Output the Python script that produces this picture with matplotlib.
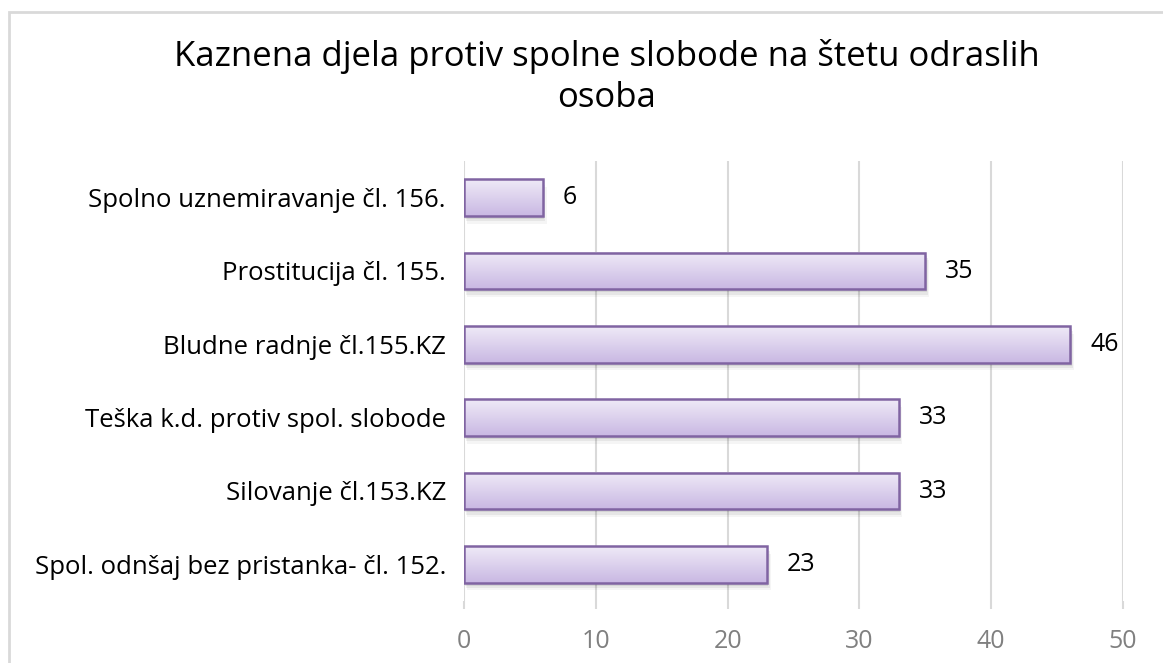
import numpy as np
import matplotlib.pyplot as plt
from matplotlib.patches import Rectangle
from matplotlib.colors import LinearSegmentedColormap

categories = ['Spol. odnšaj bez pristanka- čl. 152.', 'Silovanje čl.153.KZ',
              'Teška k.d. protiv spol. slobode', 'Bludne radnje čl.155.KZ',
              'Prostitucija čl. 155.', 'Spolno uznemiravanje čl. 156.']
values = [23, 33, 33, 46, 35, 6]
xticks = [0, 10, 20, 30, 40, 50]

plt.rcParams['font.family'] = ['Open Sans', 'DejaVu Sans']

fig = plt.figure(figsize=(11.63, 6.63), dpi=100)
# chart border
fig.patches.append(Rectangle((9 / 1163, -0.1), 1.2, 1 - 12 / 663 + 0.1, transform=fig.transFigure,
                             fill=False, edgecolor='#d9d9d9', linewidth=2))

ax = fig.add_axes([464 / 1163, 1 - 601 / 663, (1123 - 464) / 1163, (601 - 161) / 663])

y = np.arange(len(categories))
h = 0.5
grad = np.linspace(0, 1, 100).reshape(-1, 1)
cmap = LinearSegmentedColormap.from_list('lav', ['#c9b8e3', '#efeaf7'])

for yi, v in zip(y, values):
    # soft shadow, a few layers
    for k, a in [(0.10, 0.08), (0.18, 0.06), (0.26, 0.04)]:
        ax.add_patch(Rectangle((k, yi - h / 2 - k * 0.4), v, h, facecolor='#000000', alpha=a,
                               edgecolor='none', zorder=2))
    ax.imshow(grad, cmap=cmap, aspect='auto', extent=(0, v, yi - h / 2, yi + h / 2),
              origin='lower', zorder=3)
    ax.add_patch(Rectangle((0, yi - h / 2), v, h, facecolor='none', edgecolor='#8064a2',
                           linewidth=1.8, zorder=4))
    ax.text(v + 1.5, yi, str(v), va='center', ha='left', fontsize=18, color='black')

ax.set_xlim(0, 50)
ax.set_ylim(-0.5, len(categories) - 0.5)
ax.set_xticks(xticks)
ax.set_xticklabels([str(t) for t in xticks])
ax.set_yticks(y)
ax.set_yticklabels(categories)
ax.grid(axis='x', color='#d9d9d9', linewidth=1.5, zorder=0)
ax.set_axisbelow(True)
for s in ax.spines.values():
    s.set_visible(False)
ax.tick_params(axis='y', length=0, pad=13, labelsize=18.5, labelcolor='black')
ax.tick_params(axis='x', length=6, color='#d9d9d9', width=1.5, pad=14, labelsize=18,
               labelcolor='#808080')

fig.text(607 / 1163, 1 - 77 / 663, 'Kaznena djela protiv spolne slobode na štetu odraslih\nosoba',
         ha='center', va='center', fontsize=25, linespacing=1.3, color='black')
fig.savefig('out.png', dpi=100)
